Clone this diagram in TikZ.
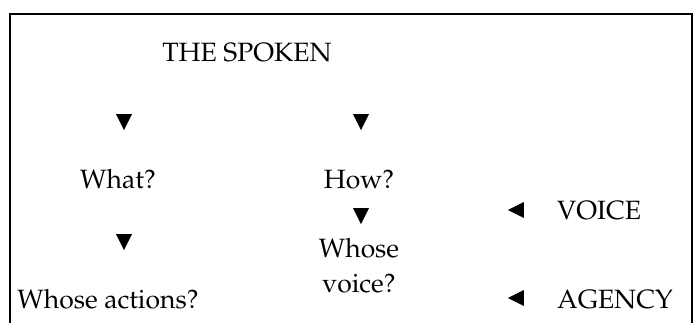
\documentclass[tikz,border=0pt]{standalone}
\usepackage[T1]{fontenc}
\usepackage{mathpazo}
\usetikzlibrary{shapes.geometric}
\tikzset{
  label/.style={inner sep=0pt, anchor=base, font=\fontsize{26.5}{30}\selectfont},
  pointer/.style={isosceles triangle, isosceles triangle stretches, fill=black,
                  inner sep=0pt, minimum height=16pt, minimum width=16pt},
  tridown/.style={pointer, shape border rotate=-90},
  trileft/.style={pointer, shape border rotate=180},
  frame/.style={line width=2pt, line cap=rect}
}
\begin{document}
\begin{tikzpicture}[x=1pt,y=-1pt]
  \useasboundingbox (0,0) rectangle (694,322);
  % open frame: top, left and right edges
  \coordinate (fbl) at (10,323);
  \coordinate (ftl) at (10,14);
  \coordinate (ftr) at (692,14);
  \coordinate (fbr) at (692,323);
  \draw[frame] (fbl) -- (ftl) -- (ftr) -- (fbr);

  % headings and questions
  \node[label] (spoken) at (247,61) {THE SPOKEN};
  \node[label] (what)   at (118,188) {What?};
  \node[label] (how)    at (359,188) {How?};
  \node[label] (whose)  at (359,257) {Whose};
  \node[label] (voiceq) at (359,292) {voice?};
  \node[label] (acts)   at (108,308) {Whose actions?};
  \node[label, anchor=base west] (voice)  at (557,219) {VOICE};
  \node[label, anchor=base west] (agency) at (557,308) {AGENCY};

  % pointers
  \node[tridown] (t1) at (124,119) {};
  \node[tridown] (t2) at (361,119) {};
  \node[tridown] (t3) at (361,213) {};
  \node[tridown] (t4) at (124,239) {};
  \node[trileft] (t5) at (519,210) {};
  \node[trileft] (t6) at (519,298) {};
\end{tikzpicture}
\end{document}
